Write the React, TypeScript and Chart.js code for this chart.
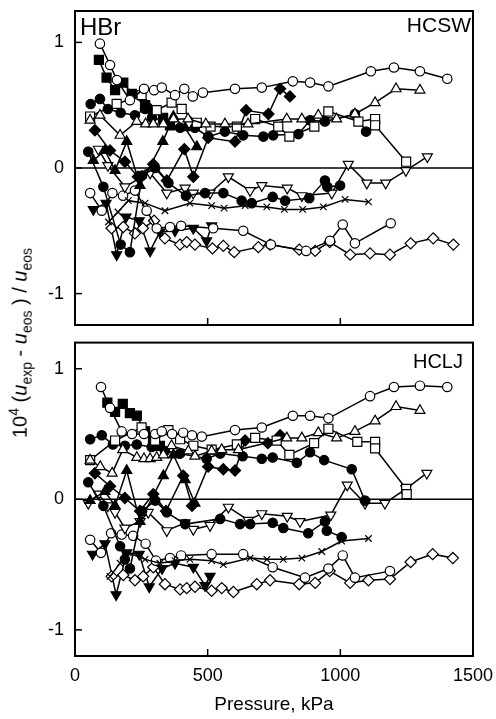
import React, { useEffect, useRef } from "react";
import { Chart, registerables } from "chart.js";

Chart.register(...registerables);

type P = [number, number];

// ---------- shared axis values ----------
const xTickValues = [0, 500, 1000, 1500];
const hcswYRange = [-1.25, 1.25];
const hcljYRange = [-1.2, 1.2];

// ---------- HCSW panel (top) ----------
const hcswOpenCircleHigh: P[] = [[94,0.99],[132,0.82],[158,0.70],[207,0.54],[260,0.63],[298,0.62],[327,0.64],[377,0.58],[412,0.63],[444,0.57],[482,0.60],[603,0.63],[704,0.64],[821,0.69],[886,0.68],[955,0.65],[1115,0.77],[1202,0.80],[1300,0.77],[1403,0.71]];
const hcswOpenTriUp: P[] = [[57,0.38],[94,0.42],[170,0.26],[233,0.37],[266,0.35],[295,0.35],[333,0.35],[371,0.39],[426,0.39],[493,0.35],[565,0.35],[652,0.35],[798,0.39],[855,0.39],[917,0.42],[986,0.39],[1055,0.43],[1131,0.52],[1210,0.63],[1300,0.62]];
const hcswOpenSquare: P[] = [[57,0.41],[157,0.51],[251,0.58],[308,0.46],[364,0.52],[402,0.47],[459,0.36],[511,0.33],[610,0.33],[679,0.39],[766,0.33],[808,0.25],[902,0.33],[955,0.45],[1068,0.37],[1131,0.39],[1131,0.34],[1248,0.05]];
const hcswFilledSquare: P[] = [[90,0.86],[119,0.72],[151,0.62],[182,0.68],[214,0.59],[264,0.50],[295,0.46],[332,0.40],[358,0.34]];
const hcswFilledCircleHigh: P[] = [[59,0.51],[94,0.55],[124,0.47],[172,0.44],[226,0.42],[264,0.47],[290,0.40],[332,0.38],[396,0.32],[452,0.32],[502,0.25],[565,0.29],[634,0.26],[710,0.25],[747,0.26],[842,0.27],[886,0.38],[942,0.37],[1055,0.43],[1097,0.29]];
const hcswFilledDiamond: P[] = [[75,0.30],[132,0.14],[188,0.05],[237,-0.07],[295,0.03],[346,-0.10],[412,0.15],[446,-0.07],[502,0.24],[603,0.21],[645,0.46],[729,0.43],[773,0.63],[810,0.57]];
const hcswFilledTriUp: P[] = [[69,0.06],[113,0.14],[151,-0.02],[195,0.21],[245,-0.14],[331,0.21],[371,0.41],[415,0.32],[459,0.17]];
const hcswFilledCircleLow: P[] = [[50,0.13],[107,-0.15],[172,-0.61],[207,-0.67],[253,-0.06],[302,0.00],[352,-0.12],[418,-0.22],[490,-0.20],[559,-0.20],[628,-0.26],[666,-0.28],[745,-0.23],[792,-0.26],[883,-0.24],[942,-0.10],[951,-0.15],[999,-0.14]];
const hcswOpenTriDown: P[] = [[88,0.15],[124,0.02],[188,-0.15],[245,-0.08],[283,-0.04],[346,-0.20],[415,-0.16],[446,-0.20],[509,-0.20],[578,-0.07],[660,-0.18],[704,-0.14],[800,-0.16],[855,-0.22],[968,-0.20],[1030,0.03],[1100,-0.12],[1171,-0.12],[1247,-0.02],[1328,0.09]];
const hcswCross: P[] = [[126,-0.43],[162,-0.35],[201,-0.26],[264,-0.28],[339,-0.34],[433,-0.28],[515,-0.30],[562,-0.32],[641,-0.30],[723,-0.31],[789,-0.33],[858,-0.33],[936,-0.31],[1018,-0.25],[1106,-0.27]];
const hcswOpenCircleLow: P[] = [[57,-0.20],[101,-0.34],[141,-0.20],[181,-0.22],[226,-0.18],[270,-0.34],[308,-0.48],[358,-0.47],[400,-0.46],[521,-0.48],[634,-0.50],[738,-0.61],[871,-0.66],[961,-0.58],[1009,-0.45],[1055,-0.60],[1190,-0.44]];
const hcswOpenDiamond: P[] = [[138,-0.48],[182,-0.47],[226,-0.52],[256,-0.48],[298,-0.42],[339,-0.56],[396,-0.61],[421,-0.59],[452,-0.61],[518,-0.64],[559,-0.62],[600,-0.67],[691,-0.63],[735,-0.61],[845,-0.65],[905,-0.66],[960,-0.59],[1037,-0.69],[1112,-0.68],[1187,-0.69],[1265,-0.60],[1350,-0.56],[1426,-0.61]];
const hcswFilledTriDown: P[] = [[69,-0.33],[117,-0.28],[157,-0.69],[192,-0.39],[242,-0.42],[283,-0.66],[320,-0.51],[377,-0.50],[446,-0.48],[496,-0.58],[515,-0.46]];

// ---------- HCLJ panel (bottom) ----------
const hcljOpenCircleHigh: P[] = [[98,0.86],[132,0.70],[176,0.52],[215,0.50],[260,0.50],[302,0.50],[327,0.52],[366,0.50],[408,0.51],[441,0.49],[478,0.48],[603,0.53],[704,0.55],[821,0.64],[886,0.64],[955,0.62],[1112,0.79],[1202,0.86],[1300,0.87],[1403,0.86]];
const hcljOpenTriUp: P[] = [[57,0.30],[95,0.25],[140,0.20],[180,0.38],[233,0.32],[260,0.31],[283,0.31],[308,0.32],[333,0.34],[364,0.41],[427,0.37],[452,0.33],[515,0.37],[553,0.38],[616,0.38],[798,0.47],[855,0.47],[917,0.51],[986,0.47],[1055,0.52],[1131,0.60],[1210,0.71],[1300,0.68]];
const hcljOpenSquare: P[] = [[57,0.30],[151,0.45],[251,0.55],[302,0.45],[352,0.53],[396,0.46],[446,0.41],[515,0.38],[610,0.42],[679,0.47],[760,0.45],[808,0.34],[901,0.43],[955,0.54],[1064,0.44],[1131,0.44],[1131,0.39],[1248,0.08],[1250,0.04]];
const hcljFilledSquare: P[] = [[122,0.74],[151,0.67],[180,0.73],[207,0.66],[233,0.64],[264,0.52],[294,0.45],[320,0.41]];
const hcljFilledCircleHigh: P[] = [[57,0.46],[101,0.49],[143,0.42],[188,0.41],[233,0.42],[289,0.40],[339,0.37],[396,0.35],[496,0.31],[547,0.35],[632,0.33],[704,0.31],[745,0.32],[836,0.28],[886,0.36],[939,0.30],[1043,0.23],[1093,-0.01]];
const hcljFilledDiamond: P[] = [[75,0.20],[132,0.10],[188,0.01],[245,-0.09],[295,0.04],[343,-0.09],[408,0.18],[441,-0.05],[502,0.25],[559,0.23],[603,0.22],[641,0.45],[727,0.43],[773,0.49]];
const hcljFilledTriUp: P[] = [[57,-0.01],[113,0.06],[151,-0.05],[195,0.22],[245,-0.17],[333,0.18],[371,0.34],[415,0.15],[452,-0.03]];
const hcljFilledCircleLow: P[] = [[50,0.13],[107,-0.05],[170,-0.36],[188,-0.46],[207,-0.53],[253,-0.09],[302,-0.01],[346,-0.10],[415,-0.19],[547,-0.15],[622,-0.19],[660,-0.19],[745,-0.18],[785,-0.22],[879,-0.26],[942,-0.17],[949,-0.24],[1005,-0.29]];
const hcljOpenTriDown: P[] = [[50,-0.03],[88,0.04],[124,-0.05],[151,-0.10],[188,-0.22],[245,-0.17],[276,-0.10],[346,-0.24],[415,-0.18],[446,-0.23],[509,-0.20],[578,-0.06],[653,-0.16],[704,-0.11],[800,-0.13],[848,-0.17],[964,-0.12],[1026,0.11],[1093,-0.03],[1168,-0.03],[1247,0.08],[1326,0.20]];
const hcljCross: P[] = [[132,-0.59],[170,-0.49],[201,-0.41],[264,-0.46],[320,-0.49],[377,-0.47],[433,-0.46],[515,-0.47],[559,-0.50],[660,-0.45],[723,-0.46],[785,-0.46],[855,-0.45],[930,-0.40],[1005,-0.32],[1106,-0.30]];
const hcljOpenCircleLow: P[] = [[57,-0.31],[98,-0.41],[136,-0.26],[176,-0.27],[219,-0.28],[266,-0.34],[305,-0.47],[358,-0.45],[400,-0.43],[515,-0.42],[634,-0.42],[745,-0.52],[867,-0.60],[955,-0.53],[1009,-0.43],[1055,-0.60],[1187,-0.55]];
const hcljOpenDiamond: P[] = [[138,-0.59],[182,-0.58],[226,-0.62],[257,-0.59],[295,-0.52],[339,-0.65],[396,-0.69],[421,-0.68],[452,-0.67],[515,-0.70],[553,-0.68],[597,-0.71],[685,-0.65],[735,-0.62],[845,-0.65],[905,-0.64],[960,-0.55],[1037,-0.64],[1106,-0.62],[1187,-0.61],[1265,-0.48],[1348,-0.42],[1424,-0.45]];
const hcljFilledTriDown: P[] = [[66,-0.42],[113,-0.34],[155,-0.73],[195,-0.41],[242,-0.42],[280,-0.67],[328,-0.53],[377,-0.49],[446,-0.52],[490,-0.66],[509,-0.59]];

// ---------- marker styles ----------
type Marker = { style: string; radius: number; filled: boolean; rotation: number };
const markers: Record<string, Marker> = {
  openCircle: { style: "circle", radius: 4.7, filled: false, rotation: 0 },
  filledCircle: { style: "circle", radius: 4.7, filled: true, rotation: 0 },
  openSquare: { style: "rect", radius: 6.4, filled: false, rotation: 0 },
  filledSquare: { style: "rect", radius: 6.4, filled: true, rotation: 0 },
  openTriUp: { style: "triangle", radius: 5.8, filled: false, rotation: 0 },
  filledTriUp: { style: "triangle", radius: 5.8, filled: true, rotation: 0 },
  openTriDown: { style: "triangle", radius: 5.8, filled: false, rotation: 180 },
  filledTriDown: { style: "triangle", radius: 5.8, filled: true, rotation: 180 },
  openDiamond: { style: "rectRot", radius: 5.6, filled: false, rotation: 0 },
  filledDiamond: { style: "rectRot", radius: 5.6, filled: true, rotation: 0 },
  cross: { style: "crossRot", radius: 4.6, filled: false, rotation: 0 },
};

const hcswSeries: [P[], string][] = [
  [hcswOpenCircleHigh, "openCircle"],
  [hcswOpenTriUp, "openTriUp"],
  [hcswOpenSquare, "openSquare"],
  [hcswFilledSquare, "filledSquare"],
  [hcswFilledCircleHigh, "filledCircle"],
  [hcswFilledDiamond, "filledDiamond"],
  [hcswFilledTriUp, "filledTriUp"],
  [hcswFilledCircleLow, "filledCircle"],
  [hcswOpenTriDown, "openTriDown"],
  [hcswCross, "cross"],
  [hcswOpenCircleLow, "openCircle"],
  [hcswOpenDiamond, "openDiamond"],
  [hcswFilledTriDown, "filledTriDown"],
];

const hcljSeries: [P[], string][] = [
  [hcljOpenCircleHigh, "openCircle"],
  [hcljOpenTriUp, "openTriUp"],
  [hcljOpenSquare, "openSquare"],
  [hcljFilledSquare, "filledSquare"],
  [hcljFilledCircleHigh, "filledCircle"],
  [hcljFilledDiamond, "filledDiamond"],
  [hcljFilledTriUp, "filledTriUp"],
  [hcljFilledCircleLow, "filledCircle"],
  [hcljOpenTriDown, "openTriDown"],
  [hcljCross, "cross"],
  [hcljOpenCircleLow, "openCircle"],
  [hcljOpenDiamond, "openDiamond"],
  [hcljFilledTriDown, "filledTriDown"],
];

const FONT = "'Liberation Sans', Arial, Helvetica, sans-serif";

const framePlugin = {
  id: "frame",
  beforeDatasetsDraw(chart: any) {
    const { ctx, chartArea: a, scales } = chart;
    const y0 = scales.y.getPixelForValue(0);
    ctx.save();
    ctx.strokeStyle = "#000";
    ctx.lineWidth = 1.6;
    ctx.beginPath();
    ctx.moveTo(a.left, y0);
    ctx.lineTo(a.right, y0);
    ctx.stroke();
    ctx.restore();
  },
  afterDraw(chart: any) {
    const { ctx, chartArea: a, scales } = chart;
    ctx.save();
    ctx.strokeStyle = "#000";
    ctx.lineWidth = 2;
    ctx.strokeRect(a.left, a.top, a.right - a.left, a.bottom - a.top);
    ctx.lineWidth = 1.5;
    for (const t of scales.y.ticks) {
      const py = scales.y.getPixelForValue(t.value);
      ctx.beginPath();
      ctx.moveTo(a.left, py);
      ctx.lineTo(a.left + 7, py);
      ctx.stroke();
    }
    for (const t of scales.x.ticks) {
      if (t.value <= 0 || t.value >= 1500) continue;
      const px = scales.x.getPixelForValue(t.value);
      ctx.beginPath();
      ctx.moveTo(px, a.bottom);
      ctx.lineTo(px, a.bottom - 7);
      ctx.stroke();
    }
    ctx.restore();
  },
};

function buildChart(
  canvas: HTMLCanvasElement,
  series: [P[], string][],
  yRange: number[],
  padTop: number,
  padBottom: number,
  showX: boolean
) {
  const datasets = series.map(([pts, mk]) => {
    const m = markers[mk];
    return {
      data: pts.map(([x, y]) => ({ x, y })),
      borderColor: "#000",
      borderWidth: 1.5,
      showLine: true,
      fill: false,
      tension: 0,
      pointStyle: m.style,
      pointRadius: m.radius,
      pointRotation: m.rotation,
      pointBorderWidth: 1.2,
      pointBorderColor: "#000",
      pointBackgroundColor: m.filled ? "#000" : "#fff",
    };
  });
  const tickFont = { family: FONT, size: 18 };
  return new Chart(canvas, {
    type: "scatter",
    data: { datasets: datasets as any },
    plugins: [framePlugin],
    options: {
      responsive: false,
      animation: false,
      events: [],
      layout: { padding: { top: padTop, right: 23, bottom: padBottom, left: 0 } },
      plugins: { legend: { display: false }, tooltip: { enabled: false } },
      scales: {
        x: {
          type: "linear",
          min: xTickValues[0],
          max: xTickValues[xTickValues.length - 1],
          afterBuildTicks: (s: any) => {
            s.ticks = xTickValues.map((v) => ({ value: v }));
          },
          ticks: {
            display: showX,
            font: tickFont,
            color: "#000",
            padding: 9,
            maxRotation: 0,
            autoSkip: false,
            callback: (v: any) => String(v),
          },
          grid: { display: false, drawTicks: false },
          border: { display: false },
          title: {
            display: showX,
            text: "Pressure, kPa",
            font: { family: FONT, size: 19 },
            color: "#000",
            padding: { top: 0, bottom: 3 },
          },
          afterFit: (s: any) => {
            s.height = showX ? 63 : 0;
            s.paddingLeft = 0;
            s.paddingRight = 0;
          },
        },
        y: {
          type: "linear",
          min: yRange[0],
          max: yRange[1],
          ticks: { stepSize: 1, font: tickFont, color: "#000", padding: 11, callback: (v: any) => String(v) },
          afterBuildTicks: (s: any) => {
            s.ticks = s.ticks.filter((t: any) => Number.isInteger(t.value));
          },
          grid: { display: false, drawTicks: false },
          border: { display: false },
          afterFit: (s: any) => {
            s.width = 75;
            s.paddingTop = 0;
            s.paddingBottom = 0;
          },
        },
      },
    } as any,
  });
}

export default function App() {
  const topRef = useRef<HTMLCanvasElement>(null);
  const botRef = useRef<HTMLCanvasElement>(null);

  useEffect(() => {
    const c1 = buildChart(topRef.current!, hcswSeries, hcswYRange, 11, 10, false);
    const c2 = buildChart(botRef.current!, hcljSeries, hcljYRange, 7, 0, true);
    return () => {
      c1.destroy();
      c2.destroy();
    };
  }, []);

  const label: React.CSSProperties = {
    position: "absolute",
    fontFamily: FONT,
    color: "#000",
    lineHeight: 1,
    whiteSpace: "nowrap",
  };
  const small: React.CSSProperties = { fontSize: 14 };

  return (
    <div style={{ position: "absolute", left: 0, top: 0, width: 496, height: 719, background: "#fff", overflow: "hidden" }}>
      <canvas ref={topRef} width={496} height={335} style={{ position: "absolute", left: 0, top: 0 }} />
      <canvas ref={botRef} width={496} height={384} style={{ position: "absolute", left: 0, top: 335 }} />
      <div style={{ ...label, left: 80, top: 15, fontSize: 24 }}>HBr</div>
      <div style={{ ...label, right: 25, top: 14, fontSize: 21, textAlign: "right" }}>HCSW</div>
      <div style={{ ...label, right: 33, top: 351, fontSize: 20, textAlign: "right" }}>HCLJ</div>
      <div
        style={{
          ...label,
          left: 20,
          top: 343,
          fontSize: 20,
          transform: "translate(-50%, -50%) rotate(-90deg)",
        }}
      >
        10<sup style={small}>4</sup> (<i>u</i>
        <sub style={small}>exp</sub> - <i>u</i>
        <sub style={small}>eos</sub> ) / <i>u</i>
        <sub style={small}>eos</sub>
      </div>
    </div>
  );
}
